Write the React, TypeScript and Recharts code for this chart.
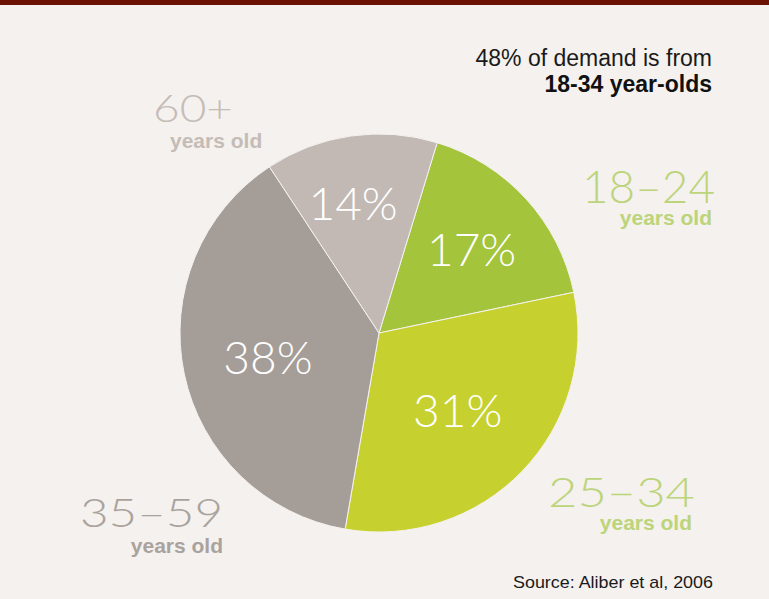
import React from 'react';
import { PieChart, Pie, Cell } from 'recharts';

const ageGroups = ['18–24', '25–34', '35–59', '60+'];
const demandShares = [17, 31, 38, 14];
const headline = '48% of demand is from';
const headlineBold = '18-34 year-olds';
const sourceNote = 'Source: Aliber et al, 2006';

const sliceColors = ['#a4c43b', '#c6d12f', '#a59d98', '#c2b9b4'];

const data = ageGroups.map((group, i) => ({ group, share: demandShares[i] }));

const RAD = Math.PI / 180;
const thinFont = 'Lato, "Open Sans", sans-serif';
const narrowFont = '"Liberation Sans Narrow", "Liberation Sans", sans-serif';

// labels don't sit at the same distance from the centre in the original
const labelRadius = [0.63, 0.55, 0.57, 0.67];

function renderLabel(props: any) {
  const { cx, cy, midAngle, outerRadius, value, index } = props;
  const r = outerRadius * (labelRadius[index] ?? 0.6);
  const x = cx + r * Math.cos(-(midAngle + (index === 3 ? 3 : 0)) * RAD);
  const y = cy + r * Math.sin(-(midAngle + (index === 3 ? 3 : 0)) * RAD);
  return (
    <text
      x={x}
      y={y}
      fill="#ffffff"
      textAnchor="middle"
      dominantBaseline="central"
      style={{ fontFamily: thinFont, fontWeight: 300, fontSize: 46 }}
    >
      {value}%
    </text>
  );
}

// callouts for each age group: big thin range + small bold "years old"
const callouts = [
  { idx: 0, x: 715, y: 203, size: 46, w: 133, subX: 712, subY: 225, anchor: 'end', color: '#bcd47a' },
  { idx: 1, x: 695, y: 507, size: 42, w: 147, subX: 692, subY: 530, anchor: 'end', color: '#bcd47a' },
  { idx: 2, x: 223, y: 527, size: 39, w: 143, subX: 223, subY: 553, anchor: 'end', color: '#aaa29d' },
  { idx: 3, x: 153, y: 122, size: 38, w: 80, subX: 170, subY: 148, anchor: 'start', color: '#c5bcb7' },
];

export default function App() {
  return (
    <div
      style={{
        position: 'absolute',
        left: 0,
        top: 0,
        width: 769,
        height: 599,
        background: '#f4f1ee',
        overflow: 'hidden',
      }}
    >
      <div style={{ position: 'absolute', left: 0, top: 0, width: 769, height: 5, background: '#6b1300' }} />
      <div style={{ position: 'absolute', left: 0, top: 0 }}>
        <PieChart width={769} height={599} margin={{ top: 0, right: 0, bottom: 0, left: 0 }}>
          <Pie
            data={data}
            dataKey="share"
            nameKey="group"
            cx={379}
            cy={333}
            outerRadius={199}
            startAngle={73}
            endAngle={-287}
            stroke="#f4f1ee"
            strokeWidth={1}
            label={renderLabel}
            labelLine={false}
            isAnimationActive={false}
          >
            {data.map((entry, i) => (
              <Cell key={entry.group} fill={sliceColors[i]} />
            ))}
          </Pie>
        </PieChart>
      </div>
      <svg width={769} height={599} style={{ position: 'absolute', left: 0, top: 0, pointerEvents: 'none' }}>
        <text x={712} y={66} textAnchor="end" fill="#1a1a1a" style={{ fontFamily: narrowFont, fontSize: 23 }}>
          {headline}
        </text>
        <text x={712} y={92} textAnchor="end" fill="#111111" style={{ fontFamily: narrowFont, fontSize: 23, fontWeight: 700 }}>
          {headlineBold}
        </text>
        {callouts.map((c) => (
          <g key={c.idx}>
            <text
              x={c.x}
              y={c.y}
              textAnchor={c.anchor as any}
              textLength={c.w}
              lengthAdjust="spacingAndGlyphs"
              fill={c.color}
              style={{ fontFamily: thinFont, fontWeight: 300, fontSize: c.size }}
            >
              {ageGroups[c.idx]}
            </text>
            <text
              x={c.subX}
              y={c.subY}
              textAnchor={c.anchor as any}
              fill={c.color}
              style={{ fontFamily: narrowFont, fontWeight: 700, fontSize: 21 }}
            >
              years old
            </text>
          </g>
        ))}
        <text
          x={713}
          y={588}
          textAnchor="end"
          textLength={200}
          lengthAdjust="spacingAndGlyphs"
          fill="#1a1a1a"
          style={{ fontFamily: '"Liberation Sans", sans-serif', fontSize: 17 }}
        >
          {sourceNote}
        </text>
      </svg>
    </div>
  );
}
